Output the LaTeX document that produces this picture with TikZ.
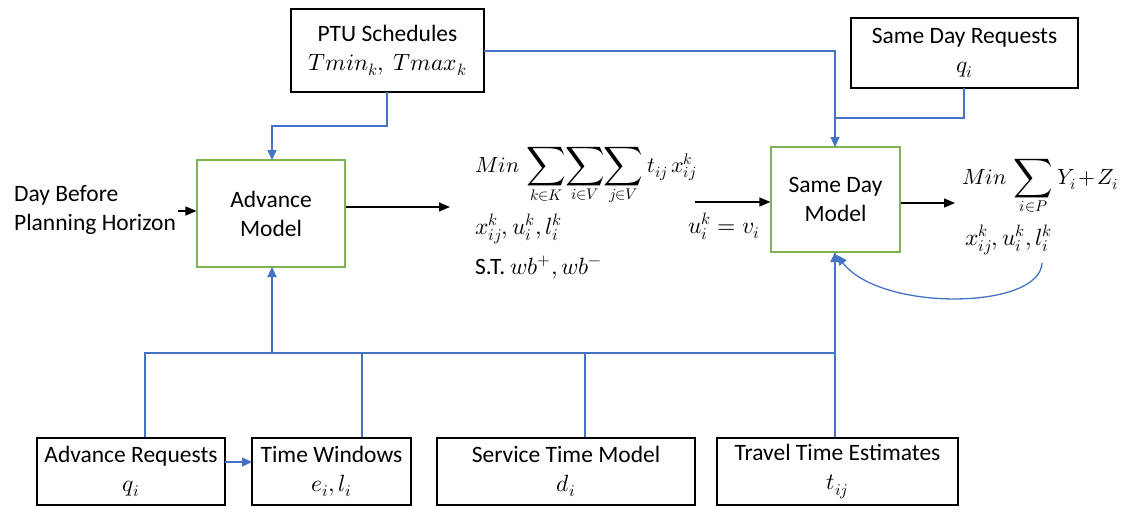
\documentclass[tikz,border=0pt]{standalone}
\usepackage{graphicx}
\usepackage{fontspec}
\usepackage{unicode-math}
\setmainfont{Carlito}
\setmathfont{Latin Modern Math}
\usetikzlibrary{arrows.meta}
\definecolor{lblue}{HTML}{4472C4}
\definecolor{lgreen}{HTML}{7FB356}
\newcommand{\bsum}{\mathop{\vcenter{\hbox{\scalebox{1.25}{$\displaystyle\sum$}}}}\limits}
\begin{document}
\begin{tikzpicture}[x=1pt,y=-1pt,
  every node/.style={font=\fontsize{23.5}{29}\selectfont},
  box/.style={draw=black, line width=1.3pt, inner sep=0pt, align=center},
  gbox/.style={draw=lgreen, line width=1.1pt, inner sep=0pt, align=center},
  txt/.style={inner sep=0pt},
  ftxt/.style={inner sep=0pt, font=\fontsize{22}{27}\selectfont},
  bl/.style={draw=lblue, line width=1.3pt},
  blthick/.style={draw=lblue, line width=2.2pt},
  barr/.style={-{Triangle[length=10pt,width=9pt]}},
  karr/.style={draw=black, line width=1.4pt, -{Triangle[length=11pt,width=9pt]}}
]
\useasboundingbox (0,0) rectangle (1133,514);

% boxes
\node[box, minimum width=193pt, minimum height=83pt] (ptu) at (387.5,50.5) {PTU Schedules\\$Tmin_k,\ Tmax_k$};
\node[box, minimum width=227pt, minimum height=70pt] (sdr) at (964.5,53) {Same Day Requests\\$q_i$};
\node[gbox, minimum width=148pt, minimum height=107pt] (adv) at (271,213.5) {Advance\\Model};
\node[gbox, minimum width=129pt, minimum height=105pt] (sdm) at (835.5,199.5) {Same Day\\Model};
\node[box, minimum width=188pt, minimum height=67pt] (ar) at (131,471.5) {Advance Requests\\$q_i$};
\node[box, minimum width=159pt, minimum height=67pt] (tw) at (331.5,471.5) {Time Windows\\$e_i, l_i$};
\node[box, minimum width=258pt, minimum height=67pt] (stm) at (566,471.5) {Service Time Model\\$d_i$};
\node[box, minimum width=241pt, minimum height=67pt] (tte) at (837.5,471.5) {Travel Time Estimates\\$t_{ij}$};

% texts
\node[txt, align=left, anchor=west] (dbp) at (14,210) {Day Before\\Planning Horizon};
\node[ftxt, anchor=base west] (f1) at (475,172) {$Min\,\bsum_{k\in K}\mkern-4mu\bsum_{i\in V}\mkern-4mu\bsum_{j\in V} t_{ij}\, x_{ij}^k$};
\node[txt, anchor=base west] (f2) at (475,234) {$x_{ij}^k, u_i^k, l_i^k$};
\node[txt, anchor=base west] (f3) at (475,274) {S.T. $wb^{+}, wb^{-}$};
\node[txt, anchor=base] (ulab) at (724,233) {$u_i^k = v_i$};
\node[ftxt, anchor=base west] (g1) at (962,184) {$Min\,\bsum_{i\in P} Y_i \mathbin{\mkern-2mu+\mkern-2mu} Z_i$};
\node[txt, anchor=base west] (g2) at (965,245) {$x_{ij}^k, u_i^k, l_i^k$};

% coordinates
\coordinate (advin) at (272,160);
\coordinate (advbot) at (272,267);
\coordinate (ptuB) at (387,92);
\coordinate (ptuR) at (484,51);
\coordinate (sdmtop) at (835,147);
\coordinate (sdmbot) at (835,252);
\coordinate (sdrB) at (964,88);
\coordinate (ar1) at (225,462);
\coordinate (tw1) at (252,462);
\coordinate (curveS) at (1042,263);

% black arrows
\draw[karr] (178,211) -- (adv.west |- 0,211);
\draw[karr] (adv.east |- 0,207) -- (450,207);
\draw[karr] (695,202) -- (sdm.west |- 0,202);
\draw[karr] (sdm.east |- 0,203) -- (955,203);

% PTU connectors
\draw[bl, barr] (ptuB) -- (387,126) -- (272,126) -- (advin);
\draw[bl, barr] (ptuR) -- (835,51) -- (sdmtop);
\draw[bl] (sdrB) -- (964,118) -- (835,118);

% bottom bus
\draw[bl] (ar.north -| 145,0) -- (145,353) -- (835,353);
\draw[bl] (tw.north -| 362,0) -- (362,353);
\draw[bl] (stm.north -| 585,0) -- (585,353);
\draw[blthick, barr] (272,353) -- (advbot);
\draw[blthick, barr] (tte.north -| 835,0) -- (sdmbot);
\draw[bl, barr] (ar1) -- (tw1);

% feedback curve
\draw[bl, barr] (curveS) .. controls (1040,310) and (880,312) .. (837,255);
\end{tikzpicture}
\end{document}
